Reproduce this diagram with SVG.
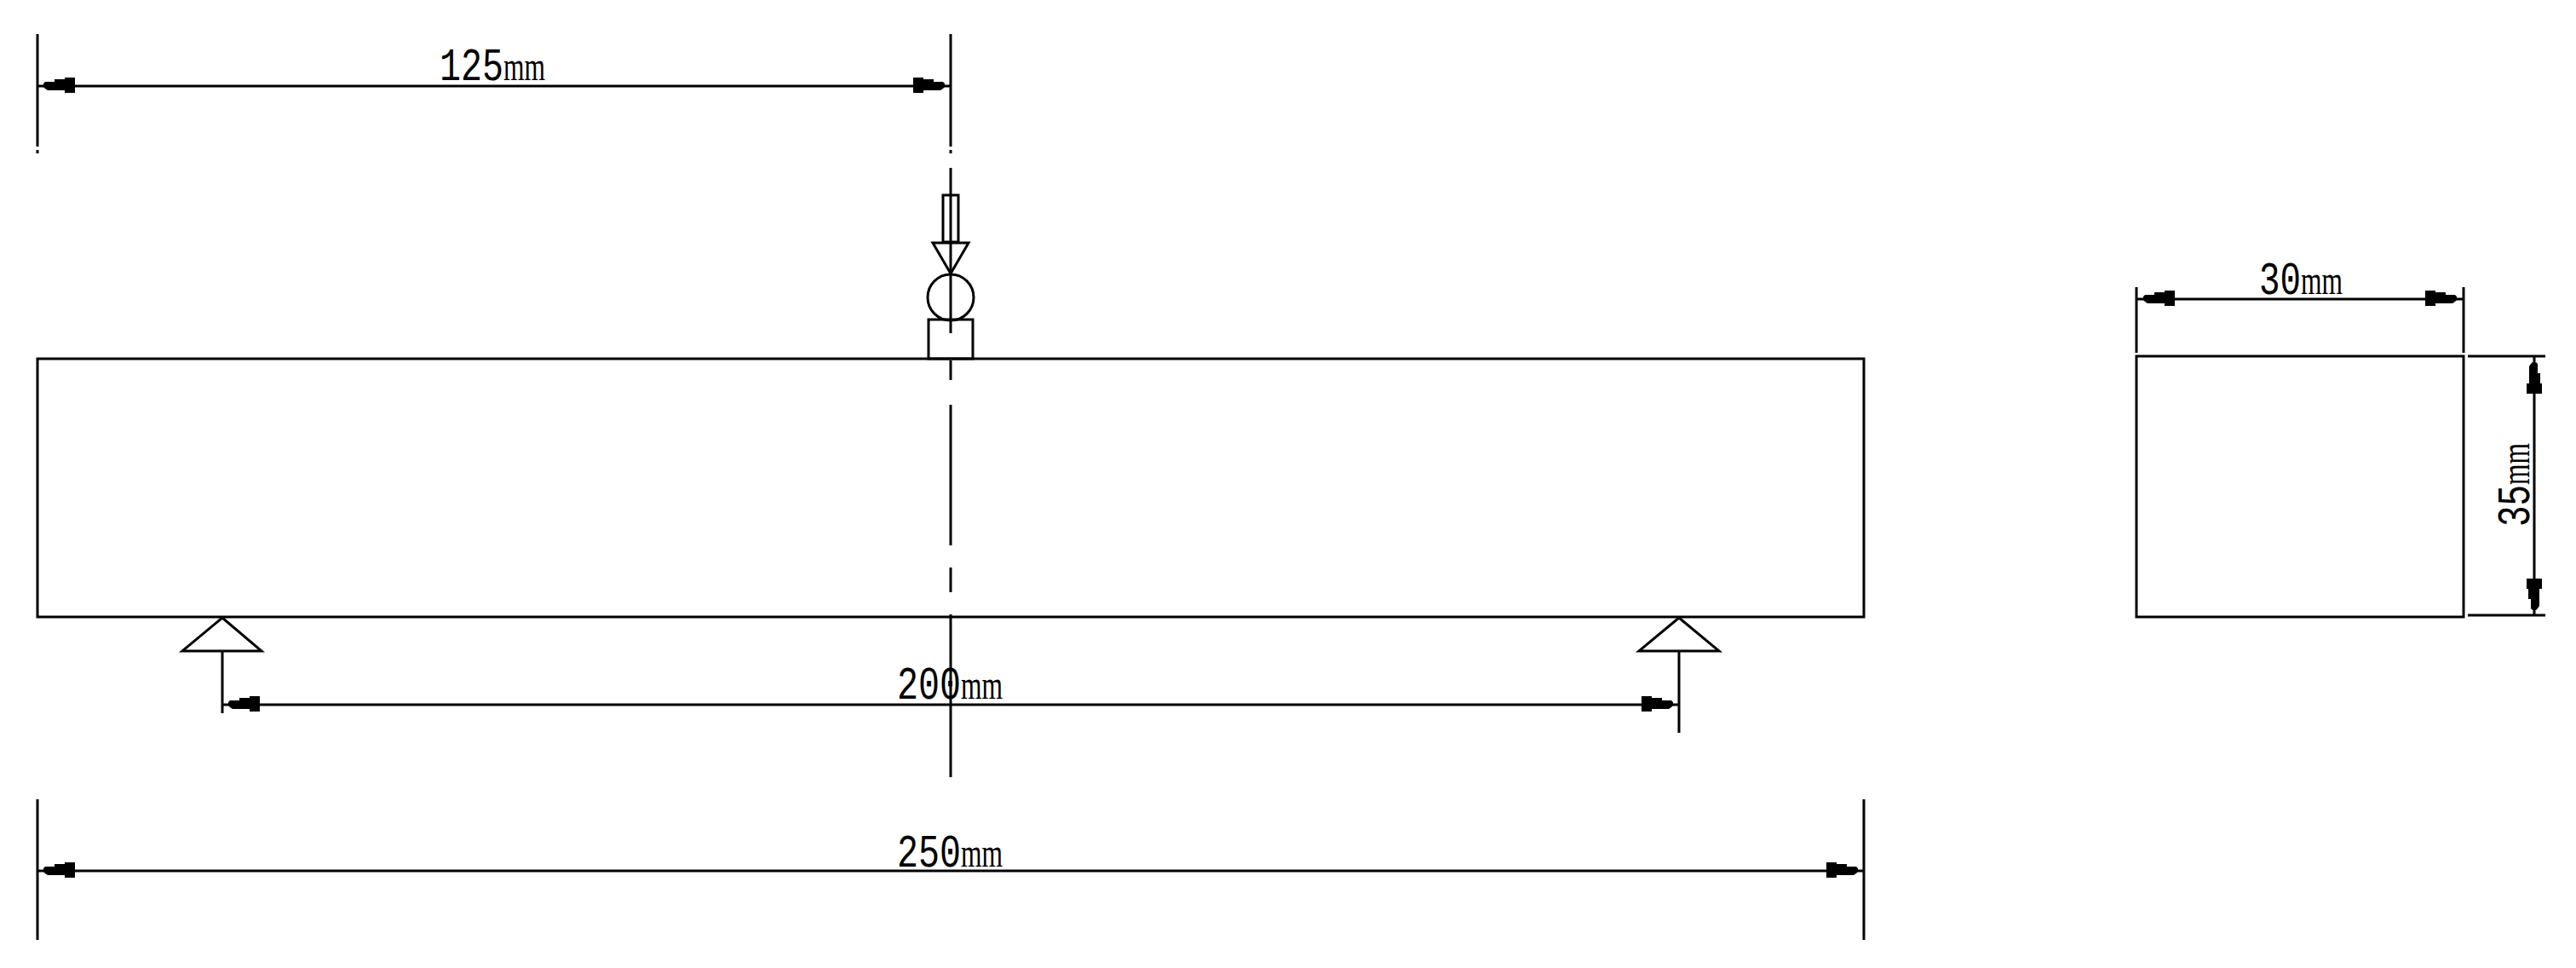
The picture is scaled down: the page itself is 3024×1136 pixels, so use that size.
<svg xmlns="http://www.w3.org/2000/svg" width="3024" height="1136" viewBox="0 0 3024 1136">
<style>
.l{stroke:#000;stroke-width:3;fill:none}
.a{fill:#000;stroke:none}
.t{fill:#000}
.d{font-family:"Liberation Mono",monospace;font-size:54px}
.m{font-family:"Liberation Serif",serif;font-size:48px}
</style>
<defs>
<path id="ah" d="M0,-2 L2,-4 L13,-4 L13,-7 L25,-7 L25,-9 L37,-9 L37,9 L25,9 L25,6 L5,6 L2,4 L0,2 Z"/>
</defs>
<rect width="3024" height="1136" fill="#fff"/>
<g id="beam"><rect class="l" x="44" y="421" width="2144" height="303"/></g>
<g id="section"><rect class="l" x="2508" y="418" width="384" height="306"/></g>
<g id="load">
<rect class="l" x="1107" y="229" width="18" height="55"/>
<path class="l" d="M1095,285 H1137 L1116,321 Z"/>
<circle class="l" cx="1116" cy="349" r="27"/>
<rect class="l" x="1090" y="375" width="52" height="46"/>
</g>
<g id="support-left"><path class="l" d="M261,725 L214,764 H307 Z"/></g>
<g id="support-right"><path class="l" d="M1971,725 L1924,764 H2018 Z"/></g>
<g id="connectors">
<path class="l" d="M1116,40 V172 M1116,176 V180 M1116,197 V391 M1116,423 V446 M1116,475 V640 M1116,666 V695 M1116,721 V912"/>
<path class="l" d="M44,40 V172 M44,176 V180 M44,101 H1116"/>
<use href="#ah" class="a" transform="translate(51,100)"/>
<use href="#ah" class="a" transform="translate(1109,100) scale(-1,1)"/>
<path class="l" d="M261,764 V837 M1971,764 V860 M261,827 H1971"/>
<use href="#ah" class="a" transform="translate(268,826)"/>
<use href="#ah" class="a" transform="translate(1964,826) scale(-1,1)"/>
<path class="l" d="M44,938 V1103 M2188,938 V1103 M44,1022 H2188"/>
<use href="#ah" class="a" transform="translate(51,1021)"/>
<use href="#ah" class="a" transform="translate(2181,1021) scale(-1,1)"/>
<path class="l" d="M2508,337 V414 M2892,337 V414 M2508,351 H2892"/>
<use href="#ah" class="a" transform="translate(2516,350)"/>
<use href="#ah" class="a" transform="translate(2884,350) scale(-1,1)"/>
<path class="l" d="M2897,418 H2988 M2897,722 H2988 M2975,418 V722"/>
<use href="#ah" class="a" transform="translate(2975,425) rotate(90)"/>
<use href="#ah" class="a" transform="translate(2975,716) rotate(-90)"/>
</g>
<g id="labels">
<text class="t" x="516" y="94"><tspan class="d" textLength="75" lengthAdjust="spacingAndGlyphs">125</tspan><tspan class="m" textLength="49" lengthAdjust="spacingAndGlyphs">mm</tspan></text>
<text class="t" x="1053" y="820"><tspan class="d" textLength="75" lengthAdjust="spacingAndGlyphs">200</tspan><tspan class="m" textLength="49" lengthAdjust="spacingAndGlyphs">mm</tspan></text>
<text class="t" x="1053" y="1017"><tspan class="d" textLength="75" lengthAdjust="spacingAndGlyphs">250</tspan><tspan class="m" textLength="49" lengthAdjust="spacingAndGlyphs">mm</tspan></text>
<text class="t" x="2652" y="345"><tspan class="d" textLength="49" lengthAdjust="spacingAndGlyphs">30</tspan><tspan class="m" textLength="49" lengthAdjust="spacingAndGlyphs">mm</tspan></text>
<text class="t" transform="translate(2969,618) rotate(-90)" x="0" y="0"><tspan class="d" textLength="49" lengthAdjust="spacingAndGlyphs">35</tspan><tspan class="m" textLength="49" lengthAdjust="spacingAndGlyphs">mm</tspan></text>
</g>
</svg>
